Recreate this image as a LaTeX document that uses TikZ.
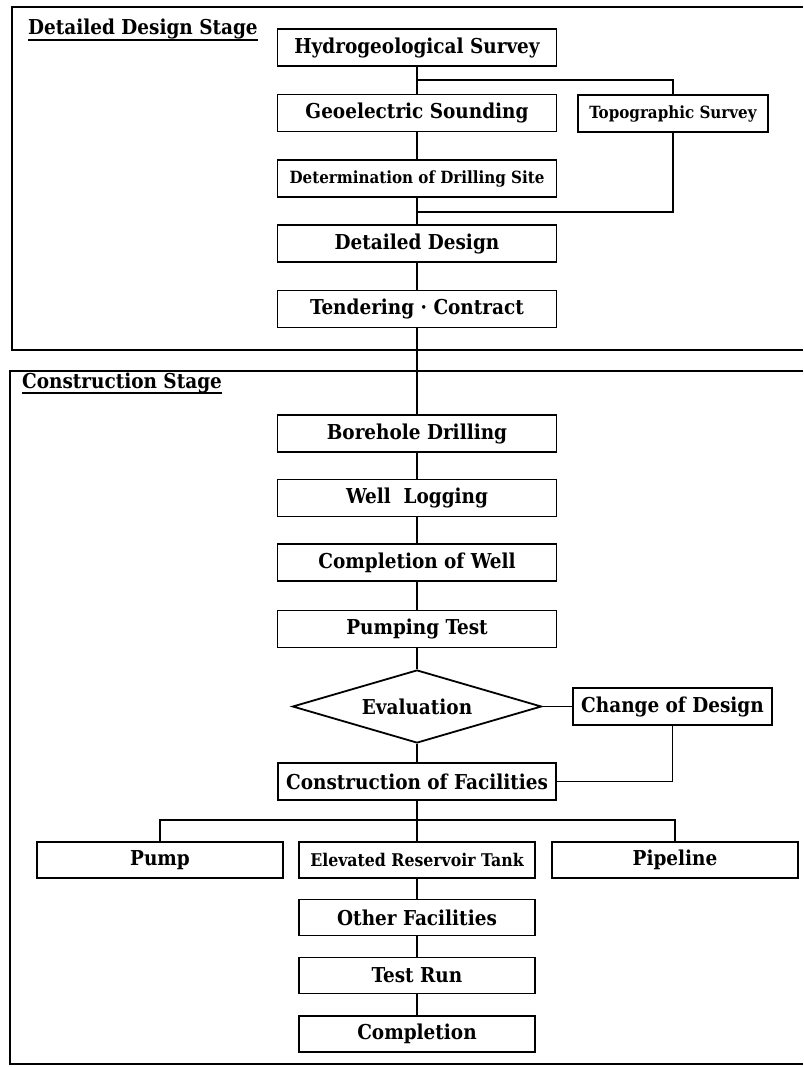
\documentclass[tikz,border=0pt]{standalone}
\usepackage{fontspec}
\newfontfamily\bfont{DejaVu Serif Condensed}
\usetikzlibrary{shapes.geometric}
\tikzset{
  base/.style={draw, line width=1.8pt, inner sep=0pt, align=center,
    font=\bfont\bfseries\fontsize{20.5}{22}\selectfont},
  mainbox/.style={base, minimum width=279pt, minimum height=37pt},
  lowbox/.style={base, minimum width=236pt, minimum height=36pt},
  smallfont/.style={font=\bfont\bfseries\fontsize{16.8}{18}\selectfont},
  elevfont/.style={font=\bfont\bfseries\fontsize{17.5}{19}\selectfont},
  conn/.style={line width=1.8pt},
  frame/.style={line width=1.8pt},
  stagelab/.style={inner sep=0pt, anchor=base west,
    font=\bfont\bfseries\fontsize{20.5}{22}\selectfont}
}
\begin{document}
\begin{tikzpicture}[x=1pt,y=-1pt]
\useasboundingbox (0,0) rectangle (803,1067);
% frames
\draw[frame] (803,7) -- (12,7) -- (12,350) -- (803,350);
\draw[frame] (803,371) -- (10,371) -- (10,1064) -- (803,1064);
% stage labels
\node[stagelab] (lab1) at (28,35) {Detailed Design Stage};
\draw[line width=1.2pt] ([yshift=-5pt]lab1.base west) -- ([yshift=-5pt]lab1.base east);
\node[stagelab] (lab2) at (22,388) {Construction Stage};
\draw[line width=1.2pt] ([yshift=-5pt]lab2.base west) -- ([yshift=-5pt]lab2.base east);
% detailed design stage
\node[mainbox] (hydro) at (417,47.5) {Hydrogeological Survey};
\node[mainbox] (geo) at (417,113) {Geoelectric Sounding};
\node[base, smallfont, minimum width=190pt, minimum height=37pt] (topo) at (673,113.5) {Topographic Survey};
\node[mainbox, smallfont] (det) at (417,178.5) {Determination of Drilling Site};
\node[mainbox] (dd) at (417,243.5) {Detailed Design};
\node[mainbox] (tend) at (417,309) {Tendering · Contract};
\coordinate (b1) at (417,80);
\coordinate (b2) at (417,212);
\draw[conn] (hydro) -- (geo);
\draw[conn] (b1) -| (topo.north);
\draw[conn] (geo) -- (det);
\draw[conn] (det) -- (dd);
\draw[conn] (topo.south) |- (b2);
\draw[conn] (dd) -- (tend);
% construction stage
\node[mainbox] (bore) at (417,433.5) {Borehole Drilling};
\node[mainbox] (well) at (417,498) {Well~~Logging};
\node[mainbox] (cow) at (417,562.5) {Completion of Well};
\node[mainbox] (pt) at (417,629) {Pumping Test};
\node[base, diamond, shape aspect=3.4, minimum width=249pt, minimum height=73pt] (eval) at (417,706.5) {Evaluation};
\node[base, minimum width=199pt, minimum height=37pt] (cod) at (672.5,706.5) {Change of Design};
\node[mainbox, minimum width=278pt] (cof) at (417,781.5) {Construction of Facilities};
\draw[conn] (tend) -- (bore);
\draw[conn] (bore) -- (well);
\draw[conn] (well) -- (cow);
\draw[conn] (cow) -- (pt);
\draw[conn] (pt) -- (eval);
\draw[conn] (eval.east) -- (cod.west);
\draw[conn] (cod.south) |- (cof.east);
\draw[conn] (eval) -- (cof);
% facilities
\node[base, minimum width=246pt, minimum height=36pt] (pump) at (160,860) {Pump};
\node[lowbox, elevfont] (elev) at (417,860) {Elevated Reservoir Tank};
\node[base, minimum width=246pt, minimum height=36pt] (pipe) at (675,860) {Pipeline};
\node[lowbox] (other) at (417,917.5) {Other Facilities};
\node[lowbox] (test) at (417,975.5) {Test Run};
\node[lowbox] (compl) at (417,1034) {Completion};
\draw[conn] (cof) -- (elev);
\draw[conn] (pump.north) -- ++(0,-21) -| (pipe.north);
\draw[conn] (elev) -- (other);
\draw[conn] (other) -- (test);
\draw[conn] (test) -- (compl);
\end{tikzpicture}
\end{document}
